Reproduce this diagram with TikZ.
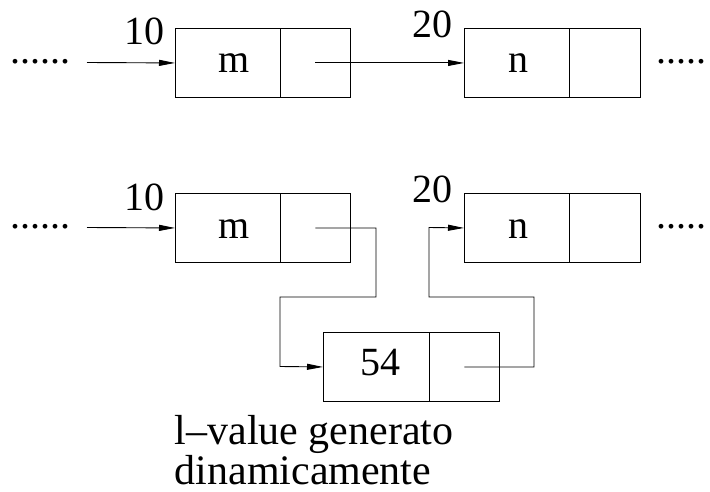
\documentclass[tikz,border=0pt]{standalone}
\usepackage{fontspec}
\setmainfont{Liberation Serif}
\usetikzlibrary{arrows.meta}
\begin{document}
\begin{tikzpicture}[x=1pt,y=-1pt,
  cell/.style={draw, line width=0.9pt, minimum height=69pt, inner sep=0pt, anchor=north west},
  ptr/.style={line width=0.9pt, -{Triangle[length=16pt,width=6pt]}},
  lbl/.style={font=\fontsize{40}{34}\selectfont, inner sep=0pt},
  caption/.style={font=\fontsize{42}{35}\selectfont, inner sep=0pt, align=left}
]
\useasboundingbox (0,0) rectangle (710,492);

% list before insertion
\node[cell, minimum width=105pt] (a1)  at (175,28) {};
\node[cell, minimum width=70pt]  (a1p) at (280,28) {};
\node[cell, minimum width=105pt] (a2)  at (464,28) {};
\node[cell, minimum width=71pt]  (a2p) at (569,28) {};
\node[lbl, anchor=base] (am) at (234,73) {m};
\node[lbl, anchor=base] (an) at (518.5,73) {n};
\node[lbl, anchor=base] (a10) at (144,45) {10};
\node[lbl, anchor=base] (a20) at (432,38) {20};
\node[lbl, anchor=base west] (adl) at (10,64) {......};
\node[lbl, anchor=base west] (adr) at (656,64) {.....};
\coordinate (ina) at (87,62.5);
\draw[ptr] (ina) -- (a1.west);
\draw[ptr] (a1p.center) -- (a2.west);

% list after insertion
\node[cell, minimum width=105pt] (b1)  at (175,193) {};
\node[cell, minimum width=70pt]  (b1p) at (280,193) {};
\node[cell, minimum width=105pt] (b2)  at (464,193) {};
\node[cell, minimum width=71pt]  (b2p) at (569,193) {};
\node[lbl, anchor=base] (bm) at (234,238) {m};
\node[lbl, anchor=base] (bn) at (518.5,238) {n};
\node[lbl, anchor=base] (b10) at (144,211) {10};
\node[lbl, anchor=base] (b20) at (432,203) {20};
\node[lbl, anchor=base west] (bdl) at (10,229) {......};
\node[lbl, anchor=base west] (bdr) at (656,229) {.....};
\coordinate (inb) at (87,227.5);
\draw[ptr] (inb) -- (b1.west);

% new element
\node[cell, minimum width=106pt] (c)  at (323,332) {};
\node[cell, minimum width=70pt]  (cp) at (429,332) {};
\node[lbl, anchor=base] (c54) at (380.5,375) {54};

\coordinate (k1) at (376,297);
\coordinate (k2) at (280,366.5);
\draw[ptr] (b1p.center) -| (k1) -| (k2) -- (c.west);
\coordinate (k3) at (534,297);
\coordinate (k4) at (429,227.5);
\draw[ptr] (cp.center) -| (k3) -| (k4) -- (b2.west);

\node[caption, anchor=north west] (cap) at (174.5,415.5) {l–value generato\\dinamicamente};
\end{tikzpicture}
\end{document}
